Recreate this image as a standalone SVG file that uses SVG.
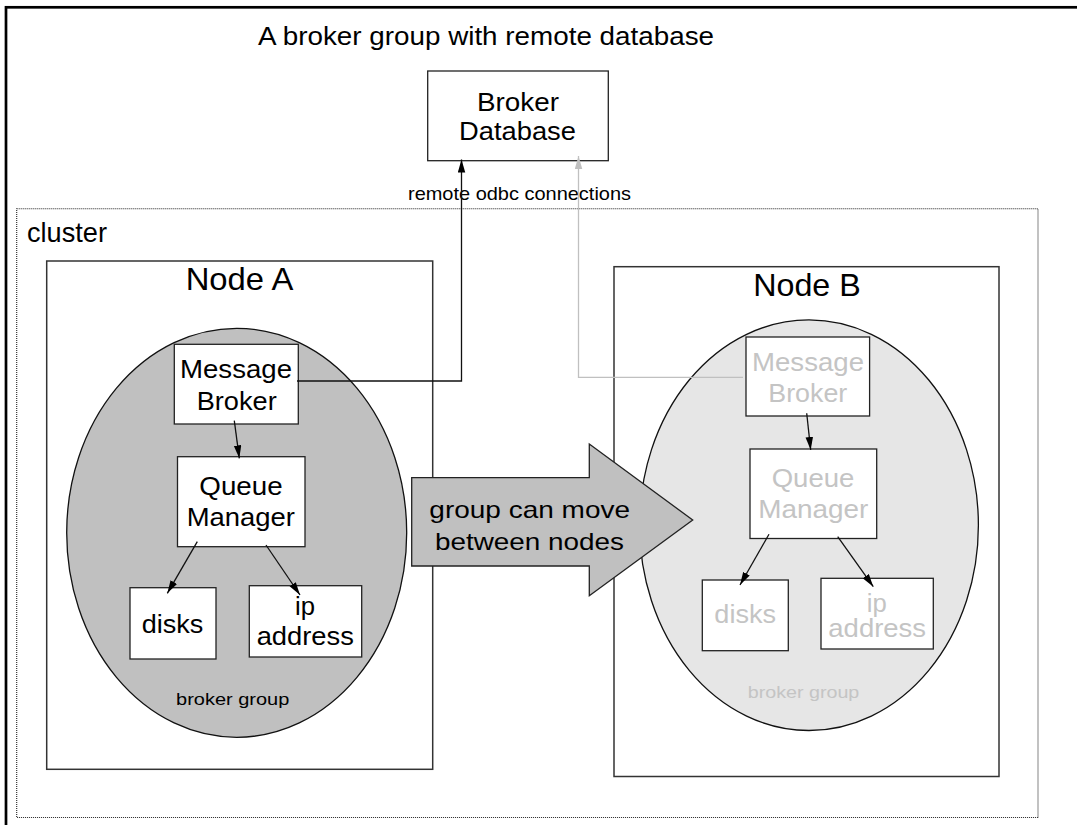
<svg xmlns="http://www.w3.org/2000/svg" width="1077" height="825" viewBox="0 0 1077 825">
  <style>
    text { font-family: "Liberation Sans", Arial, Helvetica, sans-serif; fill: #000; }
    .c { text-anchor: middle; }
    .frame { fill: none; stroke: #000; stroke-width: 2.7; }
    .cluster { fill: none; stroke: #222; stroke-width: 1.1; stroke-dasharray: 1 1; }
    .node { fill: #fff; stroke: #333; stroke-width: 1.5; }
    .box { fill: #fff; stroke: #222; stroke-width: 1.3; }
    .grpA { fill: #c0c0c0; stroke: #111; stroke-width: 1.3; }
    .grpB { fill: #e6e6e6; stroke: #111; stroke-width: 1.3; }
    .ghost { fill: #c4c4c4; }
    .link { fill: none; stroke: #111; stroke-width: 1.3; }
    .link-ghost { fill: none; stroke: #c0c0c0; stroke-width: 1.3; }
    .move { fill: #c0c0c0; stroke: #222; stroke-width: 1.3; stroke-linejoin: miter; }
    .big { font-size: 25.5px; }
  </style>
  <defs>
    <marker id="head" markerUnits="userSpaceOnUse" markerWidth="14" markerHeight="8" refX="13" refY="3.75" orient="auto">
      <path d="M0,0 L13,3.75 L0,7.5 z" fill="#000"/>
    </marker>
    <marker id="head-ghost" markerUnits="userSpaceOnUse" markerWidth="14" markerHeight="8" refX="13" refY="3.75" orient="auto">
      <path d="M0,0 L13,3.75 L0,7.5 z" fill="#c0c0c0"/>
    </marker>
  </defs>

  <rect width="1077" height="825" fill="#fff"/>

  <!-- page frame -->
  <rect class="frame" x="6" y="7.3" width="1200" height="900"/>

  <text id="title" x="258" y="44.5" font-size="26" textLength="456" lengthAdjust="spacingAndGlyphs">A broker group with remote database</text>

  <!-- database server -->
  <g id="broker-database">
    <rect class="box" x="427.7" y="71" width="180.6" height="89.7"/>
    <text class="c big" x="518" y="111" textLength="82" lengthAdjust="spacingAndGlyphs">Broker</text>
    <text class="c big" x="517.5" y="140" textLength="117" lengthAdjust="spacingAndGlyphs">Database</text>
  </g>

  <text id="odbc-label" x="408" y="200" font-size="18.5" textLength="223" lengthAdjust="spacingAndGlyphs">remote odbc connections</text>

  <!-- cluster boundary -->
  <g id="cluster">
    <rect class="cluster" x="16.7" y="208.7" width="1021.3" height="608.8"/>
    <text x="27" y="241.7" font-size="28" textLength="80" lengthAdjust="spacingAndGlyphs">cluster</text>
  </g>

  <!-- Node A: active broker group -->
  <g id="node-a">
    <rect class="node" x="46.7" y="261" width="386" height="508.3"/>
    <text class="c" x="239.5" y="290" font-size="30.5" textLength="107.6" lengthAdjust="spacingAndGlyphs">Node A</text>
  </g>
  <g id="broker-group-a">
    <ellipse class="grpA" cx="236.7" cy="532.8" rx="170" ry="204.5"/>
    <text class="c" x="232.7" y="705" font-size="17" textLength="113.3" lengthAdjust="spacingAndGlyphs">broker group</text>
  </g>
  <g id="message-broker-a">
    <rect class="box" x="174.3" y="344.3" width="124" height="79.7"/>
    <text class="c big" x="236" y="378.3" textLength="112" lengthAdjust="spacingAndGlyphs">Message</text>
    <text class="c big" x="236.7" y="410" textLength="80" lengthAdjust="spacingAndGlyphs">Broker</text>
  </g>
  <g id="queue-manager-a">
    <rect class="box" x="177.5" y="456.7" width="127.5" height="90"/>
    <text class="c big" x="241" y="495" textLength="83.4" lengthAdjust="spacingAndGlyphs">Queue</text>
    <text class="c big" x="240.8" y="526" textLength="108.3" lengthAdjust="spacingAndGlyphs">Manager</text>
  </g>
  <g id="disks-a">
    <rect class="box" x="130" y="587.7" width="86" height="71.3"/>
    <text class="c big" x="172.5" y="633.3" textLength="61.6" lengthAdjust="spacingAndGlyphs">disks</text>
  </g>
  <g id="ip-address-a">
    <rect class="box" x="249.3" y="585.7" width="112.4" height="71.3"/>
    <text class="c big" x="305" y="615" textLength="20" lengthAdjust="spacingAndGlyphs">ip</text>
    <text class="c big" x="305.3" y="645" textLength="97.3" lengthAdjust="spacingAndGlyphs">address</text>
  </g>

  <!-- Node B: standby location of the group -->
  <g id="node-b">
    <rect class="node" x="614" y="266.7" width="385" height="509.8"/>
    <text class="c" x="807" y="296" font-size="30.5" textLength="107.6" lengthAdjust="spacingAndGlyphs">Node B</text>
  </g>
  <g id="broker-group-b">
    <ellipse class="grpB" cx="809" cy="525.2" rx="169.4" ry="205.3"/>
    <text class="c ghost" x="803.5" y="698.3" font-size="17" textLength="111.6" lengthAdjust="spacingAndGlyphs">broker group</text>
  </g>
  <g id="message-broker-b">
    <rect class="box" x="746" y="337" width="123.6" height="79"/>
    <text class="c big ghost" x="808" y="370.7" textLength="112" lengthAdjust="spacingAndGlyphs">Message</text>
    <text class="c big ghost" x="807.8" y="401.7" textLength="79" lengthAdjust="spacingAndGlyphs">Broker</text>
  </g>
  <g id="queue-manager-b">
    <rect class="box" x="750" y="449" width="126.7" height="89.5"/>
    <text class="c big ghost" x="813" y="487.3" textLength="82.7" lengthAdjust="spacingAndGlyphs">Queue</text>
    <text class="c big ghost" x="813.3" y="518.3" textLength="110" lengthAdjust="spacingAndGlyphs">Manager</text>
  </g>
  <g id="disks-b">
    <rect class="box" x="702.3" y="580" width="86" height="70.7"/>
    <text class="c big ghost" x="745.2" y="623.3" textLength="61.7" lengthAdjust="spacingAndGlyphs">disks</text>
  </g>
  <g id="ip-address-b">
    <rect class="box" x="821" y="578.3" width="112.3" height="70.7"/>
    <text class="c big ghost" x="876.7" y="611.7" textLength="20" lengthAdjust="spacingAndGlyphs">ip</text>
    <text class="c big ghost" x="877.2" y="637.3" textLength="97.7" lengthAdjust="spacingAndGlyphs">address</text>
  </g>

  <!-- failover arrow -->
  <g id="move-arrow">
    <polygon class="move" points="411.7,477.7 589.3,477.7 589.3,444 692.7,520 589.3,595.7 589.3,566 411.7,566"/>
    <text class="c" x="529.7" y="518.3" font-size="24" textLength="200.7" lengthAdjust="spacingAndGlyphs">group can move</text>
    <text class="c" x="529.5" y="550" font-size="24" textLength="189" lengthAdjust="spacingAndGlyphs">between nodes</text>
  </g>

  <!-- connectors -->
  <g id="connectors">
    <polyline class="link" points="297,381 461.5,381 461.5,159.5" marker-end="url(#head)"/>
    <polyline class="link-ghost" points="743,377.3 578.5,377.3 578.5,156" marker-end="url(#head-ghost)"/>
    <line class="link" x1="234.3" y1="420.7" x2="239.3" y2="458.3" marker-end="url(#head)"/>
    <line class="link" x1="197.3" y1="541.7" x2="167.3" y2="593.3" marker-end="url(#head)"/>
    <line class="link" x1="266" y1="545" x2="300" y2="595" marker-end="url(#head)"/>
    <line class="link" x1="806.7" y1="413.3" x2="810.7" y2="450" marker-end="url(#head)"/>
    <line class="link" x1="769" y1="534.3" x2="740" y2="585" marker-end="url(#head)"/>
    <line class="link" x1="837.7" y1="536.7" x2="873.3" y2="586.7" marker-end="url(#head)"/>
  </g>
</svg>
